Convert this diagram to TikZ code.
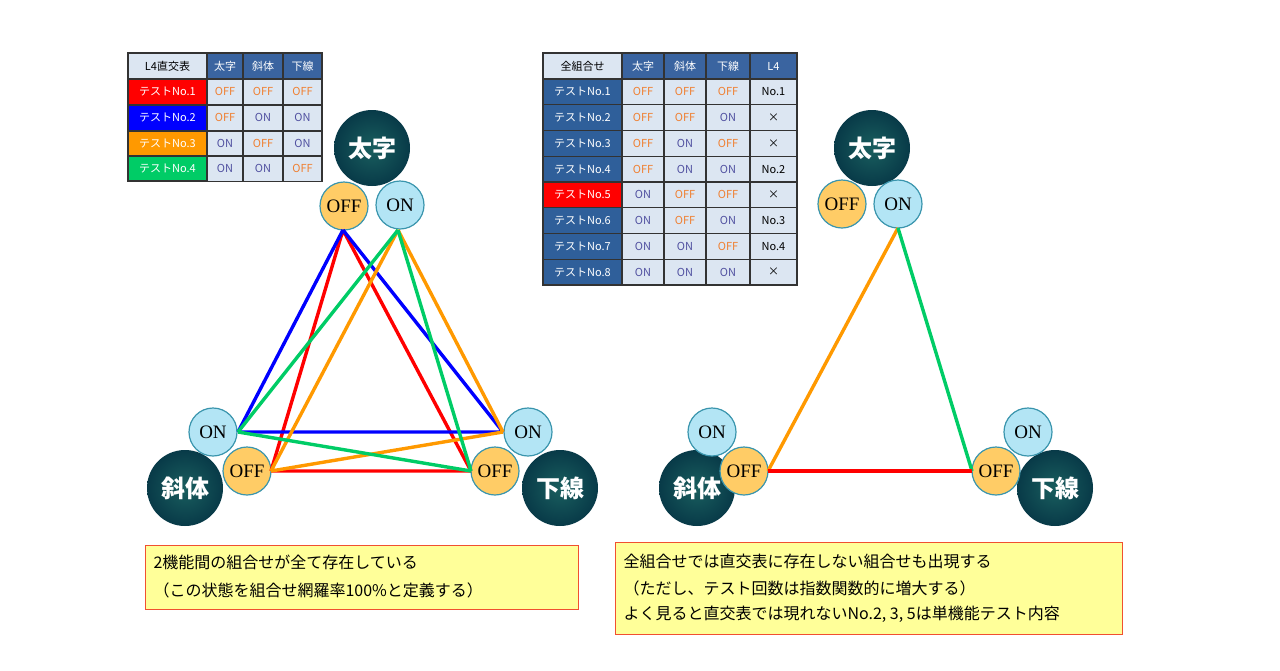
\documentclass[tikz,border=0pt]{standalone}
\usepackage{fontspec}
\setmainfont{Liberation Serif}
\newfontfamily\jp{Noto Sans CJK JP}
\definecolor{hdr}{HTML}{3A64A0}
\definecolor{fcol}{HTML}{2F5F9A}
\definecolor{lite}{HTML}{DCE6F2}
\definecolor{offt}{HTML}{F07F30}
\definecolor{ont}{HTML}{5050A0}
\definecolor{offf}{HTML}{FFCC66}
\definecolor{onf}{HTML}{B3E5F5}
\definecolor{cbd}{HTML}{3A95AD}
\definecolor{tOr}{HTML}{FF9900}
\definecolor{tGr}{HTML}{00CC66}
\definecolor{boxf}{HTML}{FFFF99}
\definecolor{boxd}{HTML}{F05030}
\newcommand\cellx[6]{\path[fill=#5,draw=black!80,line width=1.2pt] (#1,#2) rectangle (#3,#4);
 \node[font=\jp\fontsize{11}{12}\selectfont,inner sep=0] at ({(#1+#3)/2},{(#2+#4)/2}) {#6};}
\begin{document}
\begin{tikzpicture}[x=1pt,y=-1pt,
 big/.style={circle,minimum size=76pt,inner sep=0,shading=radial,inner color=teal!60!black!90,outer color={rgb,255:red,8;green,58;blue,72},text=white,font=\jp\bfseries\fontsize{24}{26}\selectfont},
 offc/.style={circle,minimum size=48pt,inner sep=0,fill=offf,draw=cbd,line width=1.2pt,font=\fontsize{19}{20}\selectfont},
 onc/.style={circle,minimum size=48pt,inner sep=0,fill=onf,draw=cbd,line width=1.2pt,font=\fontsize{19}{20}\selectfont},
 ln/.style={line width=3.4pt},
 tbox/.style={draw=boxd,fill=boxf,line width=1pt},
 btxt/.style={anchor=west,font=\jp\fontsize{16}{18}\selectfont}]
\useasboundingbox (0,0) rectangle (1280,670);
% left table
\def\OF{\textcolor{offt}{OFF}}\def\ONN{\textcolor{ont}{ON}}
\cellx{128}{53}{207}{79}{lite}{L4直交表}
\cellx{207}{53}{243}{79}{hdr}{\textcolor{white}{太字}}
\cellx{243}{53}{283}{79}{hdr}{\textcolor{white}{斜体}}
\cellx{283}{53}{322}{79}{hdr}{\textcolor{white}{下線}}
\cellx{128}{79}{207}{105}{red}{\textcolor{white}{テストNo.1}}
\cellx{128}{105}{207}{131}{blue}{\textcolor{white}{テストNo.2}}
\cellx{128}{131}{207}{156}{tOr}{\textcolor{white}{テストNo.3}}
\cellx{128}{156}{207}{181}{tGr}{\textcolor{white}{テストNo.4}}
\foreach \y/\a/\b/\c [evaluate=\y as \yy using \y+25.5] in {79/\OF/\OF/\OF,105/\OF/\ONN/\ONN,131/\ONN/\OF/\ONN,156/\ONN/\ONN/\OF}{
 \cellx{207}{\y}{243}{\yy}{lite}{\a}\cellx{243}{\y}{283}{\yy}{lite}{\b}\cellx{283}{\y}{322}{\yy}{lite}{\c}}
% right table
\cellx{543}{53}{622}{79}{lite}{全組合せ}
\cellx{622}{53}{664}{79}{hdr}{\textcolor{white}{太字}}
\cellx{664}{53}{706}{79}{hdr}{\textcolor{white}{斜体}}
\cellx{706}{53}{750}{79}{hdr}{\textcolor{white}{下線}}
\cellx{750}{53}{797}{79}{hdr}{\textcolor{white}{L4}}
\foreach \i/\a/\b/\c/\d [evaluate=\i as \y using 79+(\i-1)*25.75, evaluate=\i as \yy using 79+\i*25.75] in
 {1/\OF/\OF/\OF/No.1,2/\OF/\OF/\ONN/×,3/\OF/\ONN/\OF/×,4/\OF/\ONN/\ONN/No.2,5/\ONN/\OF/\OF/×,6/\ONN/\OF/\ONN/No.3,7/\ONN/\ONN/\OF/No.4,8/\ONN/\ONN/\ONN/×}{
 \ifnum\i=5 \def\fc{red}\else\def\fc{fcol}\fi
 \cellx{543}{\y}{622}{\yy}{\fc}{\textcolor{white}{テストNo.\i}}
 \cellx{622}{\y}{664}{\yy}{lite}{\a}\cellx{664}{\y}{706}{\yy}{lite}{\b}\cellx{706}{\y}{750}{\yy}{lite}{\c}\cellx{750}{\y}{797}{\yy}{lite}{\d}}
% left diagram
\node[big] (b1) at (372,148) {太字};
\node[big] (i1) at (185,488) {斜体};
\node[big] (u1) at (560,488) {下線};
\node[offc] (bof) at (344,206) {OFF};
\node[onc] (bon) at (400,205) {ON};
\node[onc] (ion) at (213,432) {ON};
\node[offc] (iof) at (247,471) {OFF};
\node[onc] (uon) at (528,432) {ON};
\node[offc] (uof) at (495,471) {OFF};
\coordinate (A) at (343,230); \coordinate (B) at (398,230);
\coordinate (C) at (238,432); \coordinate (D) at (271,471);
\coordinate (E) at (503,432); \coordinate (F) at (471,471);
\draw[ln,red] (A)--(D) (A)--(F) (D)--(F);
\draw[ln,blue] (A)--(C) (A)--(E) (C)--(E);
\draw[ln,tOr] (B)--(D) (B)--(E) (D)--(E);
\draw[ln,tGr] (B)--(C) (B)--(F) (C)--(F);
% right diagram
\node[big] (b2) at (872,148) {太字};
\node[big] (i2) at (697,488) {斜体};
\node[big] (u2) at (1055,488) {下線};
\node[offc] (bof2) at (842,204) {OFF};
\node[onc] (bon2) at (898,204) {ON};
\node[onc] (ion2) at (712,432) {ON};
\node[offc] (iof2) at (744,471) {OFF};
\node[onc] (uon2) at (1028,432) {ON};
\node[offc] (uof2) at (996,471) {OFF};
\coordinate (G) at (898,228); \coordinate (H) at (768,471); \coordinate (K) at (972,471);
\draw[ln,tOr] (G)--(H); \draw[ln,tGr] (G)--(K); \draw[ln,red] (H)--(K);
% text boxes
\draw[tbox] (145,545) rectangle (578,609);
\node[btxt] (t1) at (150,562) {2機能間の組合せが全て存在している};
\node[btxt] (t2) at (150,590) {（この状態を組合せ網羅率100\%と定義する）};
\draw[tbox] (615,542) rectangle (1122,634);
\node[btxt] (t3) at (620,561) {全組合せでは直交表に存在しない組合せも出現する};
\node[btxt] (t4) at (620,588) {（ただし、テスト回数は指数関数的に増大する）};
\node[btxt] (t5) at (620,614) {よく見ると直交表では現れないNo.2, 3, 5は単機能テスト内容};
\end{tikzpicture}
\end{document}
